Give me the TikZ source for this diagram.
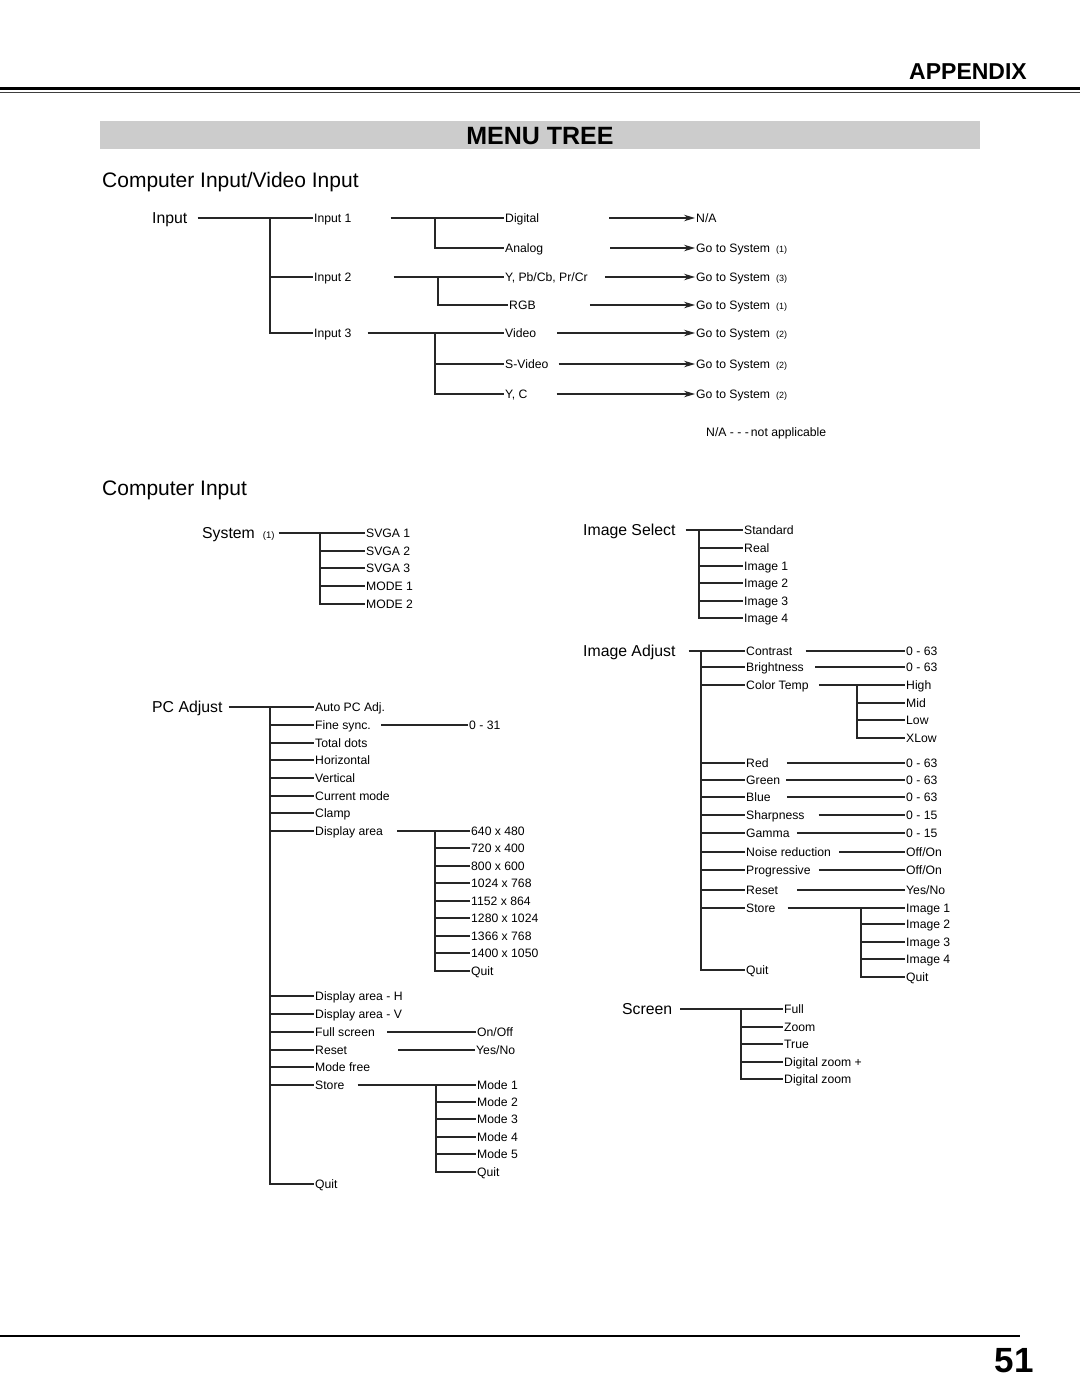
\documentclass[tikz,border=0pt]{standalone}
\usepackage{fontspec}
\setmainfont{Liberation Sans}
\usetikzlibrary{arrows.meta}

\begin{document}
\begin{tikzpicture}[x=1pt,y=-1pt,
  menu/.style={anchor=west,inner xsep=1pt,inner ysep=0pt,text height=8.7pt,text depth=0pt,font=\fontsize{12.2}{14}\selectfont},
  head/.style={anchor=west,inner xsep=1pt,inner ysep=0pt,text height=11.3pt,text depth=0pt,font=\fontsize{15.8}{18}\selectfont},
  sect/.style={anchor=west,inner xsep=1pt,inner ysep=0pt,text height=15pt,text depth=0pt,font=\fontsize{21}{24}\selectfont},
  link/.style={line width=1.1pt,black!85},
  goto/.style={link,-{Stealth[length=11pt,width=6.5pt]}}]

  \useasboundingbox (0,0) rectangle (1080,1397);

  % page head
  \fill (0,86.5) rectangle (1080,90);
  \draw[line width=1.5pt,black!75] (0,92.5) -- (1080,92.5);
  \node[anchor=base east,inner sep=0pt,font=\fontsize{23}{26}\selectfont\bfseries] (app) at (1027,80) {APPENDIX};
  \fill[black!20] (100,121) rectangle (980,149);
  \node[inner sep=0pt,text height=18pt,text depth=0pt,font=\fontsize{25}{28}\selectfont\bfseries] (mtree) at (540,135) {MENU TREE};

  % computer input / video input
  \node[sect] (cvi) at (101,180) {Computer Input/Video Input};
  \node[head] (inp) at (151,218) {Input};
  \foreach \n/\y/\t in {in1/218/Input 1,in2/277/Input 2,in3/333/Input 3}
    \node[menu] (\n) at (313,\y) {\t};
  \coordinate (inT) at (270,218);
  \draw[link] ([xshift=9pt]inp.east) -- (in1.west);
  \draw[link] (inT) |- (in3.west);
  \draw[link] (inT |- in2.west) -- (in2.west);

  \foreach \n/\x/\y/\t in {dig/504/218/Digital,ana/504/248/Analog,ypb/504/277/{Y, Pb/Cb, Pr/Cr},rgb/508/305/RGB,
                           vid/504/333/Video,svid/504/364/S-Video,yc/504/394/{Y, C}}
    \node[menu] (\n) at (\x,\y) {\t};
  \coordinate (dT) at (435,218);
  \coordinate (yT) at (438,277);
  \coordinate (vT) at (435,333);
  \draw[link] ([xshift=38pt]in1.east) -- (dig.west);
  \draw[link] (dT) |- (ana.west);
  \draw[link] ([xshift=41pt]in2.east) -- (ypb.west);
  \draw[link] (yT) |- (rgb.west);
  \draw[link] ([xshift=15pt]in3.east) -- (vid.west);
  \draw[link] (vT) |- (yc.west);
  \draw[link] (vT |- svid.west) -- (svid.west);

  \node[menu] (na) at (695,218) {N/A};
  \foreach \n/\y/\k in {g1/248/1,g2/277/3,g3/305/1,g4/333/2,g5/364/2,g6/394/2}
    \node[menu] (\n) at (695,\y) {Go to System\hspace{6pt}{\fontsize{9}{10}\selectfont(\k)}};
  \draw[goto] ([xshift=69pt]dig.east) -- (na.west);
  \draw[goto] ([xshift=66pt]ana.east) -- (g1.west);
  \draw[goto] ([xshift=16pt]ypb.east) -- (g2.west);
  \draw[goto] ([xshift=53pt]rgb.east) -- (g3.west);
  \draw[goto] ([xshift=20pt]vid.east) -- (g4.west);
  \draw[goto] ([xshift=9pt]svid.east) -- (g5.west);
  \draw[goto] ([xshift=28pt]yc.east) -- (g6.west);
  \node[menu] (nanote) at (705,432) {N/A - - -\,not applicable};

  % computer input
  \node[sect] (ci) at (101,488) {Computer Input};

  % system
  \node[head] (sys) at (201,533) {System\hspace{8pt}{\fontsize{9.5}{11}\selectfont(1)}};
  \foreach \n/\y/\t in {svga1/533/SVGA 1,svga2/551/SVGA 2,svga3/568/SVGA 3,mode1/586/MODE 1,mode2/604/MODE 2}
    \node[menu] (\n) at (365,\y) {\t};
  \coordinate (sT) at (320,533);
  \draw[link] ([xshift=3pt]sys.east) -- (svga1.west);
  \draw[link] (sT) |- (mode2.west);
  \foreach \n in {svga2,svga3,mode1}
    \draw[link] (sT |- \n.west) -- (\n.west);

  % image select
  \node[head] (isel) at (582,530) {Image Select};
  \foreach \n/\y/\t in {std/530/Standard,real/548/Real,is1/566/Image 1,is2/583/Image 2,is3/601/Image 3,is4/618/Image 4}
    \node[menu] (\n) at (743,\y) {\t};
  \coordinate (isT) at (699,530);
  \draw[link] ([xshift=9pt]isel.east) -- (std.west);
  \draw[link] (isT) |- (is4.west);
  \foreach \n in {real,is1,is2,is3}
    \draw[link] (isT |- \n.west) -- (\n.west);

  % image adjust
  \node[head] (iadj) at (582,651) {Image Adjust};
  \foreach \n/\y/\t in {con/651/Contrast,bri/667/Brightness,ctmp/685/Color Temp,red/763/Red,grn/780/Green,blu/797/Blue,
                        shp/815/Sharpness,gam/833/Gamma,noi/852/Noise reduction,pro/870/Progressive,rst/890/Reset,
                        sto/908/Store,iaq/970/Quit}
    \node[menu] (\n) at (745,\y) {\t};
  \coordinate (iaT) at (701,651);
  \draw[link] ([xshift=12pt]iadj.east) -- (con.west);
  \draw[link] (iaT) |- (iaq.west);
  \foreach \n in {bri,ctmp,red,grn,blu,shp,gam,noi,pro,rst,sto}
    \draw[link] (iaT |- \n.west) -- (\n.west);

  \coordinate (vx) at (905,0);
  \foreach \s/\g/\t in {con/12/0 - 63,bri/10/0 - 63,red/17/0 - 63,grn/5/0 - 63,blu/15/0 - 63,shp/13/0 - 15,
                        gam/6/0 - 15,noi/7/{Off/On},pro/7/{Off/On},rst/18/{Yes/No}}
  {
    \node[menu] (v\s) at (vx |- \s.west) {\t};
    \draw[link] ([xshift=\g pt]\s.east) -- (v\s.west);
  }

  \foreach \n/\y/\t in {high/685/High,mid/703/Mid,low/720/Low,xlow/738/XLow}
    \node[menu] (\n) at (905,\y) {\t};
  \coordinate (ctT) at (857,685);
  \draw[link] ([xshift=9pt]ctmp.east) -- (high.west);
  \draw[link] (ctT) |- (xlow.west);
  \foreach \n in {mid,low}
    \draw[link] (ctT |- \n.west) -- (\n.west);

  \foreach \n/\y/\t in {im1/908/Image 1,im2/924/Image 2,im3/942/Image 3,im4/959/Image 4,imq/977/Quit}
    \node[menu] (\n) at (905,\y) {\t};
  \coordinate (stT) at (861,908);
  \draw[link] ([xshift=11pt]sto.east) -- (im1.west);
  \draw[link] (stT) |- (imq.west);
  \foreach \n in {im2,im3,im4}
    \draw[link] (stT |- \n.west) -- (\n.west);

  % pc adjust
  \node[head] (pcadj) at (151,707) {PC Adjust};
  \foreach \n/\y/\t in {auto/707/Auto PC Adj.,fsy/725/Fine sync.,tdot/743/Total dots,hor/760/Horizontal,ver/778/Vertical,
                        cur/796/Current mode,clmp/813/Clamp,dar/831/Display area,dah/996/Display area - H,
                        dav/1014/Display area - V,fscr/1032/Full screen,prst/1050/Reset,mfree/1067/Mode free,
                        psto/1085/Store,pq/1184/Quit}
    \node[menu] (\n) at (314,\y) {\t};
  \coordinate (pcT) at (270,707);
  \draw[link] ([xshift=5pt]pcadj.east) -- (auto.west);
  \draw[link] (pcT) |- (pq.west);
  \foreach \n in {fsy,tdot,hor,ver,cur,clmp,dar,dah,dav,fscr,prst,mfree,psto}
    \draw[link] (pcT |- \n.west) -- (\n.west);

  \node[menu] (v031) at (468,725) {0 - 31};
  \draw[link] ([xshift=9pt]fsy.east) -- (v031.west);

  \foreach \n/\y/\t in {r640/831/640 x 480,r720/848/720 x 400,r800/866/800 x 600,r1024/883/1024 x 768,
                        r1152/901/1152 x 864,r1280/918/1280 x 1024,r1366/936/1366 x 768,r1400/953/1400 x 1050,dq/971/Quit}
    \node[menu] (\n) at (470,\y) {\t};
  \coordinate (daT) at (435,831);
  \draw[link] ([xshift=13pt]dar.east) -- (r640.west);
  \draw[link] (daT) |- (dq.west);
  \foreach \n in {r720,r800,r1024,r1152,r1280,r1366,r1400}
    \draw[link] (daT |- \n.west) -- (\n.west);

  \node[menu] (vfs) at (476,1032) {On/Off};
  \draw[link] ([xshift=11pt]fscr.east) -- (vfs.west);
  \node[menu] (vpr) at (475,1050) {Yes/No};
  \draw[link] ([xshift=50pt]prst.east) -- (vpr.west);

  \foreach \n/\y/\t in {md1/1085/Mode 1,md2/1102/Mode 2,md3/1119/Mode 3,md4/1137/Mode 4,md5/1154/Mode 5,mq/1172/Quit}
    \node[menu] (\n) at (476,\y) {\t};
  \coordinate (psT) at (436,1085);
  \draw[link] ([xshift=12pt]psto.east) -- (md1.west);
  \draw[link] (psT) |- (mq.west);
  \foreach \n in {md2,md3,md4,md5}
    \draw[link] (psT |- \n.west) -- (\n.west);

  % screen
  \node[head] (scr) at (621,1009) {Screen};
  \foreach \n/\y/\t in {full/1009/Full,zoom/1027/Zoom,true/1044/True,dzp/1062/Digital zoom +,dz/1079/Digital zoom}
    \node[menu] (\n) at (783,\y) {\t};
  \coordinate (scT) at (741,1009);
  \draw[link] ([xshift=7pt]scr.east) -- (full.west);
  \draw[link] (scT) |- (dz.west);
  \foreach \n in {zoom,true,dzp}
    \draw[link] (scT |- \n.west) -- (\n.west);

  % page foot
  \draw[line width=2.5pt] (0,1336) -- (1020,1336);
  \node[anchor=base east,inner sep=0pt,font=\fontsize{35}{40}\selectfont\bfseries] (pg) at (1034,1372) {51};
\end{tikzpicture}
\end{document}
